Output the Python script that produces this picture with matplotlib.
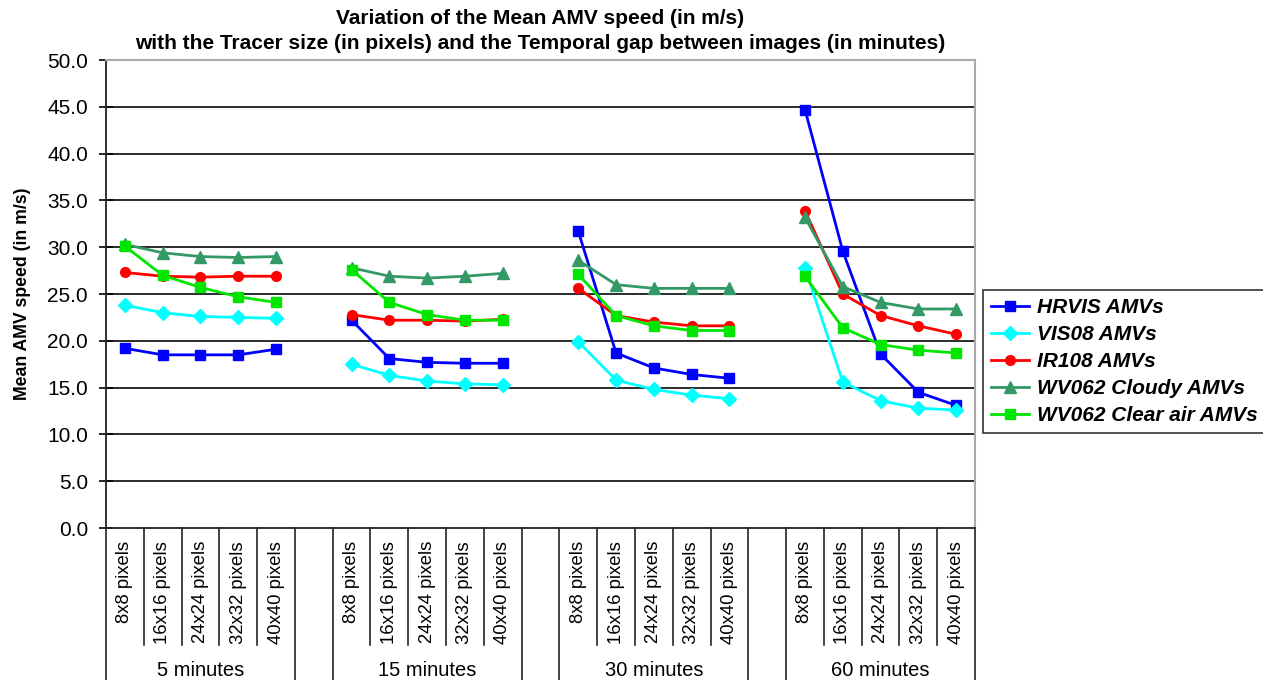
import numpy as np
import matplotlib
matplotlib.use('agg')
import matplotlib.pyplot as plt

plt.rcParams['font.family'] = ['Liberation Sans', 'DejaVu Sans']

sizes = ['8x8 pixels', '16x16 pixels', '24x24 pixels', '32x32 pixels', '40x40 pixels']
gaps = ['5 minutes', '15 minutes', '30 minutes', '60 minutes']

# mean AMV speed (m/s), one row per temporal gap, one column per tracer size
hrvis = [[19.2, 18.5, 18.5, 18.5, 19.1],
         [22.2, 18.1, 17.7, 17.6, 17.6],
         [31.7, 18.7, 17.1, 16.4, 16.0],
         [44.7, 29.6, 18.6, 14.5, 13.1]]
vis08 = [[23.8, 23.0, 22.6, 22.5, 22.4],
         [17.5, 16.3, 15.7, 15.4, 15.3],
         [19.9, 15.8, 14.8, 14.2, 13.8],
         [27.8, 15.6, 13.6, 12.8, 12.6]]
ir108 = [[27.3, 26.9, 26.8, 26.9, 26.9],
         [22.8, 22.2, 22.2, 22.1, 22.3],
         [25.6, 22.7, 22.0, 21.6, 21.6],
         [33.9, 25.0, 22.7, 21.6, 20.7]]
wv_cloudy = [[30.3, 29.4, 29.0, 28.9, 29.0],
             [27.8, 26.9, 26.7, 26.9, 27.2],
             [28.6, 26.0, 25.6, 25.6, 25.6],
             [33.2, 25.8, 24.1, 23.4, 23.4]]
wv_clear = [[30.1, 27.0, 25.7, 24.7, 24.1],
            [27.6, 24.1, 22.8, 22.2, 22.2],
            [27.1, 22.7, 21.6, 21.1, 21.1],
            [26.9, 21.4, 19.6, 19.0, 18.7]]

series = [
    ('HRVIS AMVs', hrvis, '#0000FF', 's', 6.5),
    ('VIS08 AMVs', vis08, '#00FFFF', 'D', 7),
    ('IR108 AMVs', ir108, '#FF0000', 'o', 7),
    ('WV062 Cloudy AMVs', wv_cloudy, '#339966', '^', 8.5),
    ('WV062 Clear air AMVs', wv_clear, '#00E600', 's', 6.5),
]

n = len(sizes)
step = n + 1
nslots = len(gaps) * step - 1

fig = plt.figure(figsize=(12.63, 6.8), dpi=100)
ax = fig.add_axes([106 / 1263, 1 - 528 / 680, 869 / 1263, 468 / 680])


def flat(rows):
    # lay groups out side by side with an empty slot between them
    out = np.full(nslots, np.nan)
    for g, row in enumerate(rows):
        out[g * step:g * step + n] = row
    return out


xs = np.arange(nslots) + 0.5
for name, rows, col, mk, ms in series:
    ax.plot(xs, flat(rows), color=col, lw=2.0, marker=mk, ms=ms, label=name)

yticks = np.arange(0, 51, 5)
ax.hlines(yticks[1:-1], 0, nslots, color='#1a1a1a', lw=1.3, zorder=0)
ax.set_xlim(0, nslots)
ax.set_ylim(0, 50)
ax.set_yticks(yticks)
ax.set_yticklabels(['%.1f' % v for v in yticks], fontsize=15)
ax.tick_params(axis='y', direction='inout', length=10, width=1.2, pad=8)
ax.set_xticks([])

for s in ['left', 'bottom']:
    ax.spines[s].set_color('#222222')
    ax.spines[s].set_linewidth(1.3)
for s in ['top', 'right']:
    ax.spines[s].set_color('#aaaaaa')
    ax.spines[s].set_linewidth(1.5)

# category axis: size labels, group labels and separators
tr = ax.get_xaxis_transform()
for g, gname in enumerate(gaps):
    for c, lab in enumerate(sizes):
        ax.text(g * step + c + 0.5, -0.028, lab, rotation=90, ha='center',
                va='top', fontsize=13.3, transform=tr)
    ax.text(g * step + n / 2, -0.305, gname, ha='center', va='center',
            fontsize=14.5, transform=tr)
for b in range(nslots + 1):
    edge = (b % step == 0) or (b % step == n)
    ax.plot([b, b], [0, -0.4 if edge else -0.25], color='#111111', lw=1.1,
            transform=tr, clip_on=False)

# two title lines placed separately to get the wider line gap
fig.text(540 / 1263, 1 - 19 / 680, 'Variation of the Mean AMV speed (in m/s)',
         ha='center', va='center', fontsize=15, fontweight='bold')
fig.text(540 / 1263, 1 - 43.5 / 680,
         'with the Tracer size (in pixels) and the Temporal gap between images (in minutes)',
         ha='center', va='center', fontsize=15, fontweight='bold')
ax.set_ylabel('Mean AMV speed (in m/s)', fontsize=12.7, fontweight='bold')
ax.yaxis.set_label_coords(-(106 - 31) / 869, 0.5)

leg = fig.legend(loc='upper left', bbox_to_anchor=(983 / 1263, 1 - 290 / 680),
                 borderaxespad=0, fancybox=False, edgecolor='black',
                 prop={'size': 15, 'weight': 'bold', 'style': 'italic'},
                 handlelength=1.8, labelspacing=0.38, borderpad=0.4,
                 handletextpad=0.4)
leg.get_frame().set_linewidth(1.2)

fig.savefig('out.png', dpi=100)
